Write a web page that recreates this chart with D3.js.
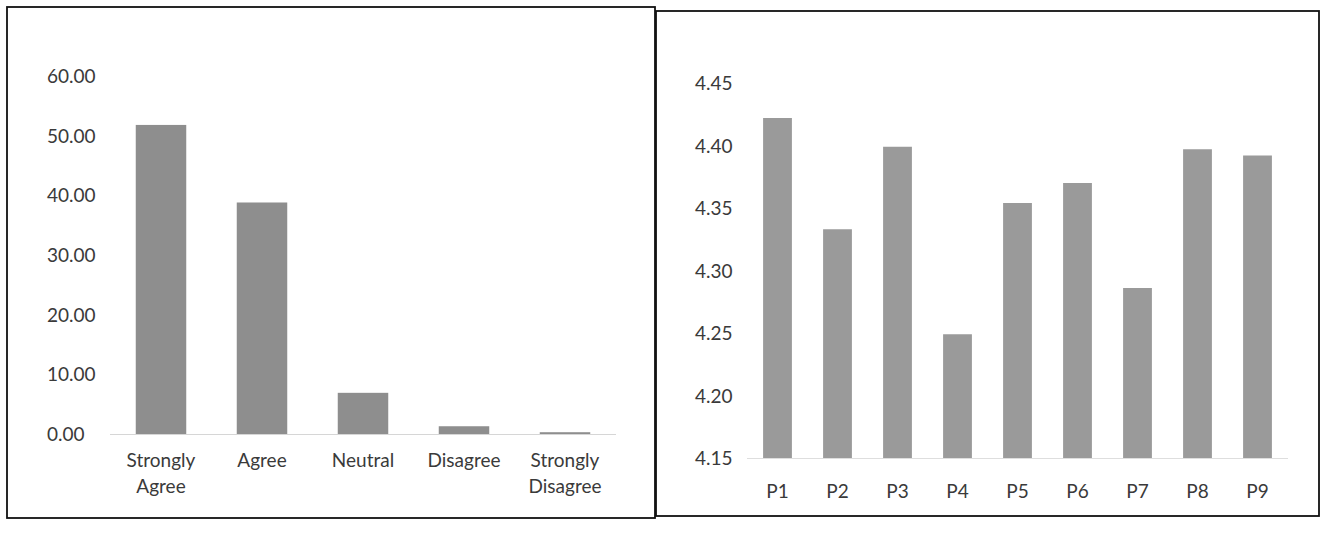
<!DOCTYPE html>
<html><head><meta charset="utf-8">
<script src="https://cdn.jsdelivr.net/npm/d3@7/dist/d3.min.js"></script>
<style>
html,body{margin:0;padding:0;background:#fff;}
svg{display:block;}
text{font-family:Lato,"Open Sans",sans-serif;fill:#3a3a3a;}
</style></head>
<body>
<svg id="c" width="1324" height="535"></svg>
<script>
// Left chart data
const likertCategories = [["Strongly","Agree"],["Agree"],["Neutral"],["Disagree"],["Strongly","Disagree"]];
const likertValues = [51.8, 38.8, 6.9, 1.3, 0.3];
const likertTicks = [0, 10, 20, 30, 40, 50, 60];
// Right chart data
const pCategories = ["P1","P2","P3","P4","P5","P6","P7","P8","P9"];
const pValues = [4.422, 4.333, 4.399, 4.249, 4.354, 4.370, 4.286, 4.397, 4.392];
const pTicks = [4.15, 4.20, 4.25, 4.30, 4.35, 4.40, 4.45];

const svg = d3.select("#c");
const fs = 19;

// panel frames
svg.append("rect").attr("x",7).attr("y",7).attr("width",648).attr("height",511)
  .attr("fill","none").attr("stroke","#111").attr("stroke-width",1.8);
svg.append("rect").attr("x",656).attr("y",11).attr("width",663).attr("height",505)
  .attr("fill","none").attr("stroke","#111").attr("stroke-width",1.8);

// ---- Left chart ----
const xL = d3.scaleBand().domain(likertCategories.map((d,i)=>i)).range([110.5,615.5]).paddingInner(0.5).paddingOuter(0.25);
const yL = d3.scaleLinear().domain([0,60]).range([434,76]);
const gL = svg.append("g");
gL.append("line").attr("x1",110).attr("x2",616).attr("y1",yL(0)+0.5).attr("y2",yL(0)+0.5)
  .attr("stroke","#d6d6d6").attr("stroke-width",1);
gL.selectAll("rect.bar").data(likertValues).join("rect").attr("class","bar")
  .attr("x",(d,i)=>xL(i)).attr("width",xL.bandwidth())
  .attr("y",d=>yL(d)).attr("height",d=>yL(0)-yL(d))
  .attr("fill","#8e8e8e");
const yAxisL = d3.axisLeft(yL).tickValues(likertTicks).tickFormat(d3.format(".2f")).tickSize(0);
const ya = gL.append("g").call(yAxisL);
ya.select(".domain").remove();
ya.selectAll("text").attr("x",47).attr("text-anchor","start").attr("dy","0.35em")
  .style("font-size",fs+"px").style("font-family","Lato").attr("fill","#3a3a3a");
likertCategories.forEach((lines,i)=>{
  const t = gL.append("text").attr("text-anchor","middle").style("font-size",fs+"px")
    .attr("x",xL(i)+xL.bandwidth()/2).attr("y",467);
  lines.forEach((ln,j)=>t.append("tspan").attr("x",xL(i)+xL.bandwidth()/2).attr("dy",j===0?0:26).text(ln));
});

// ---- Right chart ----
const xR = d3.scaleBand().domain(pCategories).range([747.5,1287.5]).paddingInner(0.52).paddingOuter(0.26);
const yR = d3.scaleLinear().domain([4.15,4.45]).range([458,83]);
const gR = svg.append("g");
gR.append("line").attr("x1",747).attr("x2",1288).attr("y1",yR(4.15)+0.5).attr("y2",yR(4.15)+0.5)
  .attr("stroke","#dedede").attr("stroke-width",1);
gR.selectAll("rect.bar").data(pValues).join("rect").attr("class","bar")
  .attr("x",(d,i)=>xR(pCategories[i])).attr("width",xR.bandwidth())
  .attr("y",d=>yR(d)).attr("height",d=>yR(4.15)-yR(d))
  .attr("fill","#9a9a9a");
const yAxisR = d3.axisLeft(yR).tickValues(pTicks).tickFormat(d3.format(".2f")).tickSize(0);
const yb = gR.append("g").call(yAxisR);
yb.select(".domain").remove();
yb.selectAll("text").attr("x",695).attr("text-anchor","start").attr("dy","0.35em")
  .style("font-size",fs+"px").style("font-family","Lato").attr("fill","#3a3a3a");
const xAxisR = d3.axisBottom(xR).tickSize(0);
const xb = gR.append("g").attr("transform","translate(0,0)").call(xAxisR);
xb.select(".domain").remove();
xb.selectAll("text").attr("y",498).attr("dy",0)
  .style("font-size",fs+"px").style("font-family","Lato").attr("fill","#3a3a3a");
</script>
</body></html>
